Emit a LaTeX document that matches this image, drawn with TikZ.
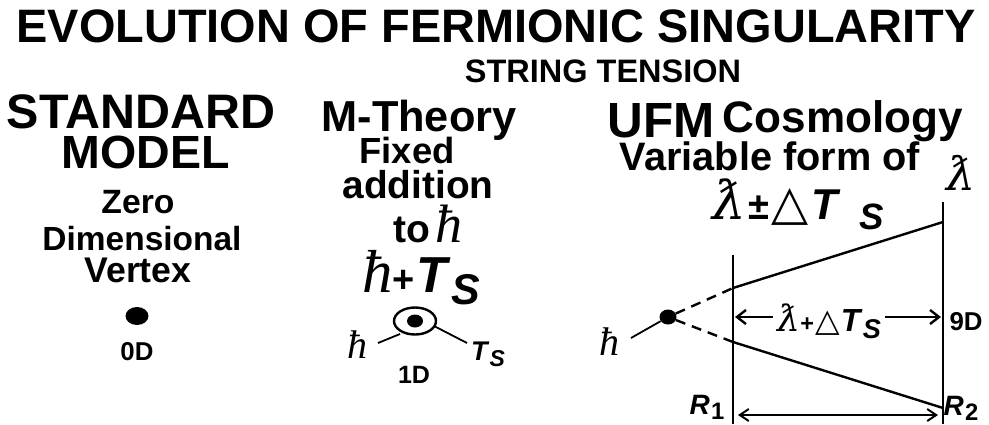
\documentclass[tikz,border=0pt]{standalone}
\usepackage{fontspec}
\setmainfont{Liberation Sans}
\newfontfamily\lamfont{DejaVu Serif}
\newfontfamily\hfont{Liberation Serif}
\newfontfamily\symfont{DejaVu Sans}
\usetikzlibrary{arrows.meta,shapes.geometric}
\newcommand{\fw}[2]{\resizebox{#1pt}{!}{#2}}
\newcommand{\lb}{{\lamfont\mdseries\itshape ƛ}}
\newcommand{\hb}{{\hfont\mdseries\itshape ħ}}
\newcommand{\dlt}{{\symfont\mdseries △}}
\newcommand{\Ts}{{\itshape T\kern0.08em\raisebox{-0.45ex}{\scalebox{0.85}{S}}}}
\newcommand{\Tsw}{{\itshape T\kern0.5em\raisebox{-0.45ex}{\scalebox{0.85}{S}}}}
\begin{document}
\begin{tikzpicture}[x=1pt,y=-1pt,
  txt/.style={inner sep=0pt, anchor=base, font=\bfseries},
  thick line/.style={line width=2.4pt},
  dotfill/.style={ellipse, fill=black, inner sep=0pt}]
\useasboundingbox (0,0) rectangle (989,424);
% titles
\node[txt] (title) at (496,42) {\fw{959}{EVOLUTION OF FERMIONIC SINGULARITY}};
\node[txt] (sub) at (603,82) {\fw{276}{STRING TENSION}};
% column 1
\node[txt] (sm1) at (141,128) {\fw{268}{STANDARD}};
\node[txt] (sm2) at (146,168) {\fw{168}{MODEL}};
\node[txt] (zero) at (138,213) {\fw{73}{Zero}};
\node[txt] (dim) at (142,250) {\fw{199}{Dimensional}};
\node[txt] (vert) at (138,282) {\fw{107}{Vertex}};
\node[dotfill, minimum width=23pt, minimum height=18pt] (dot0) at (137,316) {};
\node[txt] (d0) at (137,360) {\fw{33}{0D}};
% column 2
\node[txt] (mt) at (419,131) {\fw{195}{M-Theory}};
\node[txt] (fixed) at (407,163) {\fw{95}{Fixed}};
\node[txt] (addit) at (418,198) {\fw{151}{addition}};
\node[txt] (toh) at (428,242) {\fontsize{39}{40}\selectfont to\kern0.15em{\fontsize{54}{54}\selectfont\hb}};
\node[txt] (hts) at (421,292) {\fw{118}{{\fontsize{48}{50}\selectfont\hb}\kern0.05em{\fontsize{30}{30}\selectfont+}\kern0.1em{\fontsize{40}{40}\selectfont\Ts}}};
\node[ellipse, draw, line width=2.4pt, minimum width=42pt, minimum height=27pt, inner sep=0pt] (ring) at (415,321) {};
\node[dotfill, minimum width=16pt, minimum height=13pt] (core) at (415,321) {};
\node[txt] (hl) at (357,358) {\fontsize{40}{40}\selectfont\hb};
\node[txt] (tsl) at (488,360) {\fontsize{27}{30}\selectfont\Ts};
\node[txt] (d1) at (414,383) {\fw{32}{1D}};
\coordinate (hla) at (378,343);
\coordinate (hlb) at (400,334);
\coordinate (tsa) at (434,326);
\coordinate (tsb) at (467,343);
\draw[line width=1.8pt] (hla) -- (hlb);
\draw[line width=1.8pt] (tsa) -- (tsb);
% column 3
\node[txt] (ufm) at (661,137) {\fw{107}{UFM}};
\node[txt] (cosmo) at (843,132) {\fw{240}{Cosmology}};
\node[txt] (varf) at (770,170) {\fw{300}{Variable form of}};
\node[txt] (lamr) at (961,190) {\fontsize{46}{46}\selectfont\lb};
\node[txt] (lpm) at (798,219) {\fw{171}{{\fontsize{42}{44}\selectfont\lb}\kern0.15em{\fontsize{30}{30}\selectfont±}\kern0.2em{\fontsize{38}{40}\selectfont\dlt}\kern0.2em{\fontsize{34}{40}\selectfont\Tsw}}};
\coordinate (r1top) at (733,255);
\coordinate (r1bot) at (733,424);
\coordinate (r2top) at (943,202);
\coordinate (r2bot) at (943,424);
\coordinate (u1) at (733,288);
\coordinate (u2) at (943,222);
\coordinate (l1) at (733,342);
\coordinate (l2) at (943,408);
\draw[thick line] (r1top) -- (r1bot);
\draw[thick line] (r2top) -- (r2bot);
\draw[thick line] (u1) -- (u2);
\draw[thick line] (l1) -- (l2);
\node[dotfill, minimum width=17pt, minimum height=15pt] (dotr) at (668,317) {};
\draw[thick line, dash pattern=on 10pt off 7pt] (dotr) -- (u1);
\draw[thick line, dash pattern=on 10pt off 7pt] (dotr) -- (l1);
\node[txt] (hr) at (609,355) {\fontsize{40}{40}\selectfont\hb};
\coordinate (hra) at (631,338);
\draw[line width=1.8pt] (hra) -- (dotr);
\node[txt] (mid) at (829,331) {\fw{104}{{\fontsize{34}{36}\selectfont\lb}\kern0.05em{\fontsize{22}{22}\selectfont+}\kern0.1em{\fontsize{30}{30}\selectfont\dlt}\kern0.1em{\fontsize{30}{30}\selectfont\Ts}}};
\coordinate (ml) at (735,317);
\coordinate (mr) at (941,317);
\draw[thick line, -{Straight Barb[length=9pt,width=14pt,line width=2.4pt]}] (mid.west |- ml) ++(-4,0) -- (ml);
\draw[thick line, -{Straight Barb[length=9pt,width=14pt,line width=2.4pt]}] (mid.east |- mr) ++(4,0) -- (mr);
\node[txt] (d9) at (966,330) {\fw{33}{9D}};
\node[txt] (rr1) at (707,414) {\fontsize{28}{30}\selectfont{\itshape R}\kern0.05em\raisebox{-0.4ex}{\scalebox{0.85}{1}}};
\node[txt] (rr2) at (961,415) {\fontsize{28}{30}\selectfont{\itshape R}\kern0.05em\raisebox{-0.4ex}{\scalebox{0.85}{2}}};
\coordinate (b1) at (738,415);
\coordinate (b2) at (938,415);
\draw[line width=2pt, {Straight Barb[length=9pt,width=12pt,line width=2pt]}-{Straight Barb[length=9pt,width=12pt,line width=2pt]}] (b1) -- (b2);
\end{tikzpicture}
\end{document}
